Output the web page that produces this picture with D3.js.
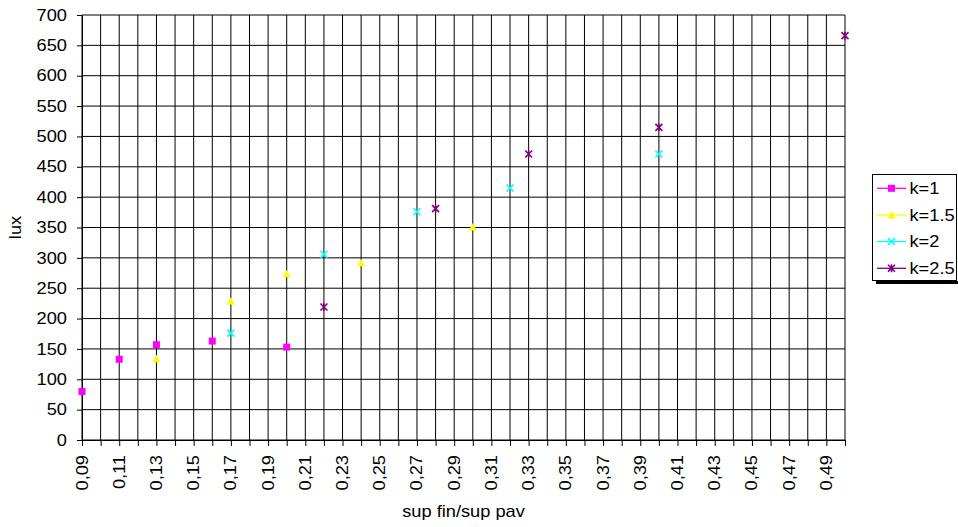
<!DOCTYPE html>
<html>
<head>
<meta charset="utf-8">
<script src="https://cdn.jsdelivr.net/npm/d3@7"></script>
<style>
  html, body { margin: 0; padding: 0; background: #fff; }
  svg { display: block; }
  text { font-family: "Liberation Sans", Arial, sans-serif; fill: #000; }
</style>
</head>
<body>
<svg id="chart" width="958" height="527"></svg>
<script>
// ---- data ----
const seriesNames = ["k=1", "k=1.5", "k=2", "k=2.5"];
const seriesColors = ["#FF00FF", "#FFFF00", "#00FFFF", "#800080"];
const seriesShapes = ["square", "triangle", "cross", "star"];

const k1X  = [0.09, 0.11, 0.13, 0.16, 0.20];
const k1Y  = [80, 133, 157, 163, 153];
const k15X = [0.13, 0.17, 0.20, 0.24, 0.30];
const k15Y = [134, 229, 274, 292, 351];
const k2X  = [0.17, 0.22, 0.27, 0.32, 0.40];
const k2Y  = [176, 306, 376, 415, 471];
const k25X = [0.22, 0.28, 0.33, 0.40, 0.50];
const k25Y = [219, 381, 471, 515, 666];

const xTickValues = [0.09, 0.11, 0.13, 0.15, 0.17, 0.19, 0.21, 0.23, 0.25, 0.27, 0.29,
                     0.31, 0.33, 0.35, 0.37, 0.39, 0.41, 0.43, 0.45, 0.47, 0.49];
const xTickLabels = ["0,09", "0,11", "0,13", "0,15", "0,17", "0,19", "0,21", "0,23", "0,25", "0,27", "0,29",
                     "0,31", "0,33", "0,35", "0,37", "0,39", "0,41", "0,43", "0,45", "0,47", "0,49"];
const xGridValues = [0.09, 0.10, 0.11, 0.12, 0.13, 0.14, 0.15, 0.16, 0.17, 0.18, 0.19, 0.20,
                     0.21, 0.22, 0.23, 0.24, 0.25, 0.26, 0.27, 0.28, 0.29, 0.30, 0.31, 0.32,
                     0.33, 0.34, 0.35, 0.36, 0.37, 0.38, 0.39, 0.40, 0.41, 0.42, 0.43, 0.44,
                     0.45, 0.46, 0.47, 0.48, 0.49, 0.50];
const yTickValues = [0, 50, 100, 150, 200, 250, 300, 350, 400, 450, 500, 550, 600, 650, 700];
const xTitle = "sup fin/sup pav";
const yTitle = "lux";

const seriesX = [k1X, k15X, k2X, k25X];
const seriesY = [k1Y, k15Y, k2Y, k25Y];

// ---- layout ----
const svg = d3.select("#chart");
const x = d3.scaleLinear().domain([0.09, 0.50]).range([82, 845]);
const y = d3.scaleLinear().domain([0, 700]).range([440, 15]);
const FS = 16, SX = 1.14;

function stretchedText(g, str, tx, ty, rot, anchor) {
  g.append("text")
    .attr("transform", `translate(${tx},${ty}) rotate(${rot}) scale(${SX},1)`)
    .attr("text-anchor", anchor)
    .attr("font-size", FS)
    .text(str);
}

// grid
const grid = svg.append("g").attr("stroke", "#000").attr("stroke-width", 1).attr("fill", "none");
grid.selectAll("line.v").data(xGridValues).enter().append("line")
  .attr("x1", d => x(d)).attr("x2", d => x(d)).attr("y1", y(0)).attr("y2", y(700));
grid.selectAll("line.h").data(yTickValues).enter().append("line")
  .attr("x1", x(0.09)).attr("x2", x(0.50)).attr("y1", d => y(d)).attr("y2", d => y(d));

// axes tick marks
const xAxis = d3.axisBottom(x).tickValues(xGridValues).tickSize(6).tickSizeOuter(0).tickFormat("");
const gx = svg.append("g").attr("transform", `translate(0,${y(0)})`).call(xAxis);
gx.select(".domain").attr("stroke", "#000");
gx.selectAll(".tick line").attr("stroke", "#000");
const yAxis = d3.axisLeft(y).tickValues(yTickValues).tickSize(5).tickSizeOuter(0).tickFormat("");
const gy = svg.append("g").attr("transform", `translate(${x(0.09)},0)`).call(yAxis);
gy.select(".domain").attr("stroke", "#000");
gy.selectAll(".tick line").attr("stroke", "#000");

// labels
const lab = svg.append("g");
yTickValues.forEach(v => stretchedText(lab, String(v), 67, y(v) + 5.7, 0, "end"));
xTickValues.forEach((v, i) => stretchedText(lab, xTickLabels[i], x(v) + 5.5, 455, -90, "end"));
stretchedText(lab, yTitle, 20.7, y(350), -90, "middle");
stretchedText(lab, xTitle, (x(0.09) + x(0.50)) / 2, 517, 0, "middle");

// markers
function drawMarker(g, shape, color, cx, cy) {
  if (shape === "square") {
    g.append("rect").attr("x", cx - 3.5).attr("y", cy - 3.5).attr("width", 7).attr("height", 7)
      .attr("fill", color);
  } else if (shape === "triangle") {
    g.append("path").attr("d", `M${cx},${cy - 4} L${cx + 4},${cy + 3.5} L${cx - 4},${cy + 3.5} Z`)
      .attr("fill", color);
  } else if (shape === "cross") {
    g.append("path").attr("d", `M${cx - 3.5},${cy - 3.5} L${cx + 3.5},${cy + 3.5} M${cx + 3.5},${cy - 3.5} L${cx - 3.5},${cy + 3.5}`)
      .attr("stroke", color).attr("stroke-width", 1.6).attr("fill", "none");
  } else if (shape === "star") {
    g.append("path").attr("d", `M${cx - 3.5},${cy - 3.5} L${cx + 3.5},${cy + 3.5} M${cx + 3.5},${cy - 3.5} L${cx - 3.5},${cy + 3.5} M${cx},${cy - 4} L${cx},${cy + 4}`)
      .attr("stroke", color).attr("stroke-width", 1.6).attr("fill", "none");
  }
}
const pts = svg.append("g");
seriesNames.forEach((name, s) => {
  seriesX[s].forEach((xv, i) => drawMarker(pts, seriesShapes[s], seriesColors[s], x(xv), y(seriesY[s][i])));
});

// legend
const leg = svg.append("g");
leg.append("rect").attr("x", 876).attr("y", 281).attr("width", 84).attr("height", 3).attr("fill", "#000");
leg.append("rect").attr("x", 872.5).attr("y", 174.5).attr("width", 84).attr("height", 106)
  .attr("fill", "#fff").attr("stroke", "#000").attr("stroke-width", 1);
const legY = [188.3, 215, 241.5, 268.3];
seriesNames.forEach((name, s) => {
  const cy = legY[s];
  leg.append("line").attr("x1", 877).attr("x2", 906).attr("y1", cy).attr("y2", cy)
    .attr("stroke", seriesColors[s]).attr("stroke-width", 1.3);
  drawMarker(leg, seriesShapes[s], seriesColors[s], 891.5, cy);
  stretchedText(leg, name, 909.5, cy + 5.7, 0, "start");
});
</script>
</body>
</html>
